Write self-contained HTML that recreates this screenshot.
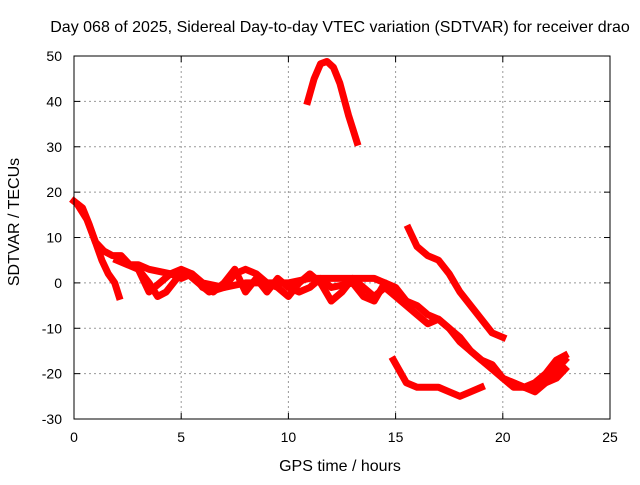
<!DOCTYPE html>
<html><head><meta charset="utf-8"><style>
body{margin:0;background:#fff}
svg text{font-family:"Liberation Sans",sans-serif;font-size:14px;fill:#000}
svg text.big{font-size:16px}
</style></head><body>
<svg id="chart" width="640" height="480">
<text class="big" x="340" y="32" text-anchor="middle">Day 068 of 2025, Sidereal Day-to-day VTEC variation (SDTVAR) for receiver drao</text>
<text class="big" x="340" y="471" text-anchor="middle">GPS time / hours</text>
<text class="big" transform="translate(19,222) rotate(-90)" text-anchor="middle">SDTVAR / TECUs</text>
<g id="grid"></g><g id="ticks"></g><g id="series"></g>
<rect x="74" y="56" width="536" height="363" fill="none" stroke="#000" stroke-width="1"/>
</svg>
<script>
const xTicks=[0,5,10,15,20,25];
const yTicks=[-30,-20,-10,0,10,20,30,40,50];
const trackArc=[[10.9,40],[11.2,45],[11.5,48.3],[11.8,48.8],[12.1,47.5],[12.4,44],[12.8,37],[13.2,31]];
const trackEarly=[[0,18],[0.4,16.5],[0.7,13],[1,9],[1.3,5],[1.6,2],[1.9,0],[2.1,-3]];
const trackMain=[[0.2,17],[0.6,14],[1,9],[1.4,7],[1.8,6],[2.2,6],[2.6,4],[3,4],[3.5,3],[4,2.5],[4.5,2],[5,1],[5.5,2],[6,0],[7,-1],[8,0],[9,0],[10,0],[11,1],[12,1],[13,1],[14,1],[14.5,0],[15,-2],[15.5,-4],[16,-5],[16.5,-7],[17,-8],[17.5,-10],[18,-13],[18.5,-15],[19,-17],[19.5,-19],[20,-21],[20.5,-23],[21,-23],[21.5,-23],[22,-22],[22.5,-19],[22.9,-17]];
const trackWave1=[[2,5],[2.5,4],[3,3],[3.5,0],[3.9,-3],[4.3,-2],[4.8,1],[5.3,2],[5.8,0],[6.3,-2],[7,-1],[7.5,2],[8,3],[8.5,2],[9,0],[9.5,-1],[10,-3],[10.5,0],[11,2],[11.5,0],[12,-4],[12.5,-2],[13,1],[13.5,-1],[14,-3],[14.5,-1],[15,-3],[15.5,-5],[16,-7],[16.5,-9],[17,-8],[17.5,-10],[18,-12],[18.5,-15],[19,-17],[19.5,-18],[20,-21],[20.5,-22],[21,-23],[21.5,-24],[22,-22],[22.5,-21],[22.9,-19]];
const trackWave2=[[3,3],[3.5,-2],[4,0],[4.5,2],[5,3],[5.5,2],[6,-1],[6.5,-2],[7,0],[7.5,3],[8,-2],[8.5,1],[9,-2],[9.5,1],[10,-1],[10.5,-2],[11,-1],[11.5,1],[12,-1],[13,0],[13.5,-3],[14,-4],[14.5,0],[15,-1],[15.5,-4]];
const trackUpper=[[15.6,12],[16,8],[16.5,6],[17,5],[17.5,2],[18,-2],[18.5,-5],[19,-8],[19.5,-11],[20,-12]];
const trackBottom=[[14.9,-17],[15.5,-22],[16,-23],[17,-23],[17.5,-24],[18,-25],[18.5,-24],[19,-23]];
const trackCurl=[[20.5,-22],[21,-23],[21.5,-22],[22,-20],[22.5,-17],[22.9,-16]];
const tracks=[trackEarly,trackMain,trackWave1,trackWave2,trackArc,trackUpper,trackBottom,trackCurl];
const X=t=>74+t*536/25, Y=v=>282.9-v*363/80;
const NS="http://www.w3.org/2000/svg";
const g=document.getElementById('grid'),tk=document.getElementById('ticks'),s=document.getElementById('series');
function mk(tag,attrs,parent){const e=document.createElementNS(NS,tag);for(const k in attrs)e.setAttribute(k,attrs[k]);parent.appendChild(e);return e;}
xTicks.forEach(t=>{
 if(t>0&&t<25){const l=mk('line',{x1:X(t),x2:X(t),y1:56,y2:419,stroke:'#999','stroke-dasharray':'2,3'},g);
 
 }
 const tx=mk('text',{x:X(t),y:442,'text-anchor':'middle'},tk);tx.textContent=t;
 
 
 mk('line',{x1:X(t),x2:X(t),y1:419,y2:413,stroke:'#000'},tk);mk('line',{x1:X(t),x2:X(t),y1:56,y2:62,stroke:'#000'},tk);
});
yTicks.forEach(v=>{
 if(v>-30&&v<50){const l=mk('line',{x1:74,x2:610,y1:Y(v),y2:Y(v),stroke:'#999','stroke-dasharray':'2,3'},g);
 
 }
 const tx=mk('text',{x:62,y:Y(v)+5,'text-anchor':'end'},tk);tx.textContent=v;
 
 
 mk('line',{x1:74,x2:80,y1:Y(v),y2:Y(v),stroke:'#000'},tk);mk('line',{x1:604,x2:610,y1:Y(v),y2:Y(v),stroke:'#000'},tk);
});
tracks.forEach(tr=>{
 const p=mk('polyline',{points:tr.map(d=>X(d[0])+','+Y(d[1])).join(' '),fill:'none',stroke:'#f00','stroke-width':7,'stroke-linejoin':'round','stroke-linecap':'square'},s);
 
 
});
</script>
</body></html>
